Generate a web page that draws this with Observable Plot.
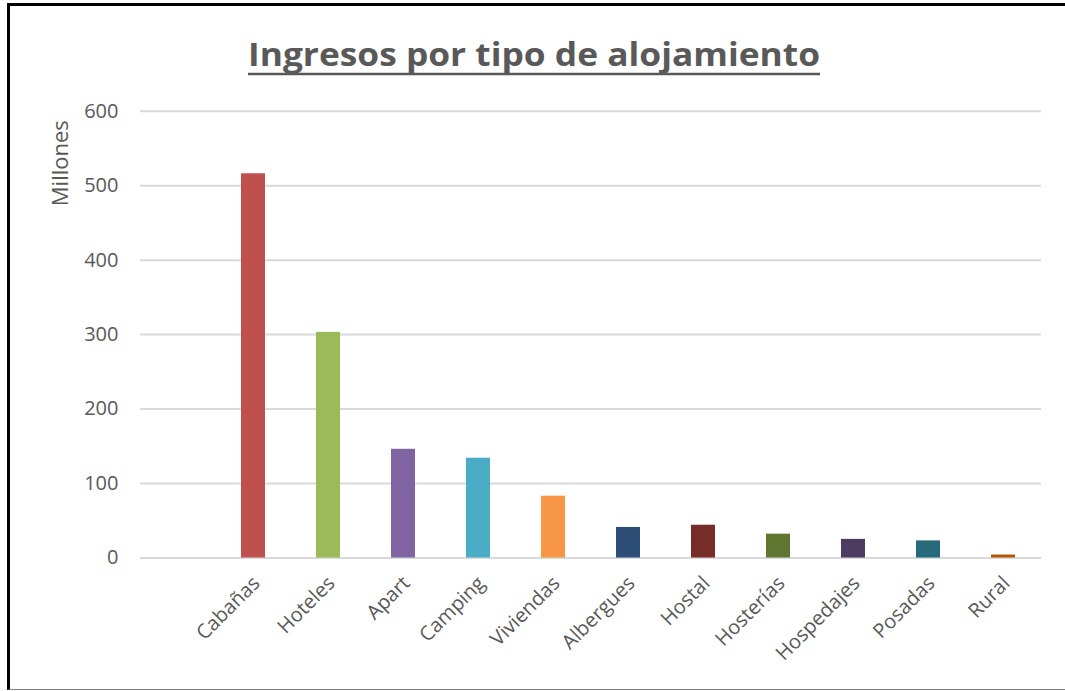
<!DOCTYPE html>
<html>
<head>
<meta charset="utf-8">
<script src="https://cdn.jsdelivr.net/npm/d3@7"></script>
<script src="https://cdn.jsdelivr.net/npm/@observablehq/plot@0.6"></script>
<style>
  html, body { margin: 0; padding: 0; background: #fff; }
  #wrap { position: relative; width: 1065px; height: 691px; overflow: hidden; }
  #frame { position: absolute; left: 7px; top: 3px; width: 1058px; height: 687px;
           border-left: 3px solid #000; border-top: 3px solid #000; border-bottom: 1px solid #7f7f7f;
           box-sizing: border-box; pointer-events: none; }
  #chart { position: absolute; left: 0; top: 0; }
</style>
</head>
<body>
<div id="wrap"><div id="chart"></div><div id="frame"></div></div>
<script>
const titleText = "Ingresos por tipo de alojamiento";
const yLabel = "Millones";
const categories = ["Cabañas","Hoteles","Apart","Camping","Viviendas","Albergues","Hostal","Hosterías","Hospedajes","Posadas","Rural"];
const values = [516, 303, 146, 134, 83, 41, 44, 32, 25, 23, 4];
const colors = ["#C0504D","#9BBB59","#8064A2","#4BACC6","#F79646","#2C4D75","#772C2A","#5F7530","#4D3B62","#276A7C","#B65708"];
const yTicks = [0, 100, 200, 300, 400, 500, 600];

const data = categories.map((c, i) => ({cat: c, value: values[i], color: colors[i]}));
const xDomain = [""].concat(categories);

const plot = Plot.plot({
  width: 1065,
  height: 691,
  marginLeft: 140,
  marginRight: 24,
  marginTop: 110.7,
  marginBottom: 133.5,
  style: {fontFamily: "Open Sans", fontSize: "20px", color: "#595959", background: "transparent"},
  x: {domain: xDomain, paddingInner: 0.68, paddingOuter: 0.34, label: null},
  y: {domain: [0, 600], label: null},
  color: {type: "identity"},
  marks: [
    Plot.gridY(yTicks, {stroke: "#d9d9d9", strokeWidth: 2, strokeOpacity: 1}),
    Plot.barY(data, {x: "cat", y: "value", fill: "color", inset: 0}),
    Plot.axisY(yTicks, {tickSize: 0, tickPadding: 22, fill: "#595959", fontSize: 20}),
    Plot.axisX({tickSize: 0, tickRotate: -45, tickPadding: 22, dx: 3, fill: "#595959", fontSize: 20}),
    Plot.text([yLabel], {frameAnchor: "top-left", textAnchor: "middle", lineAnchor: "middle", rotate: -90, dx: -80, dy: 52, fontSize: 22, fill: "#595959"})
  ]
});
document.getElementById("chart").appendChild(plot);

// Title (underlined, bold)
const svg = d3.select(plot);
svg.append("text")
  .attr("x", 534).attr("y", 66)
  .attr("text-anchor", "middle")
  .attr("font-family", "Open Sans")
  .attr("font-weight", "bold")
  .attr("font-size", 32)
  .attr("fill", "#595959")
  .attr("textLength", 572)
  .attr("lengthAdjust", "spacingAndGlyphs")
  .text(titleText);
svg.append("line")
  .attr("x1", 248).attr("x2", 820)
  .attr("y1", 74).attr("y2", 74)
  .attr("stroke", "#595959").attr("stroke-width", 2.5);
</script>
</body>
</html>
